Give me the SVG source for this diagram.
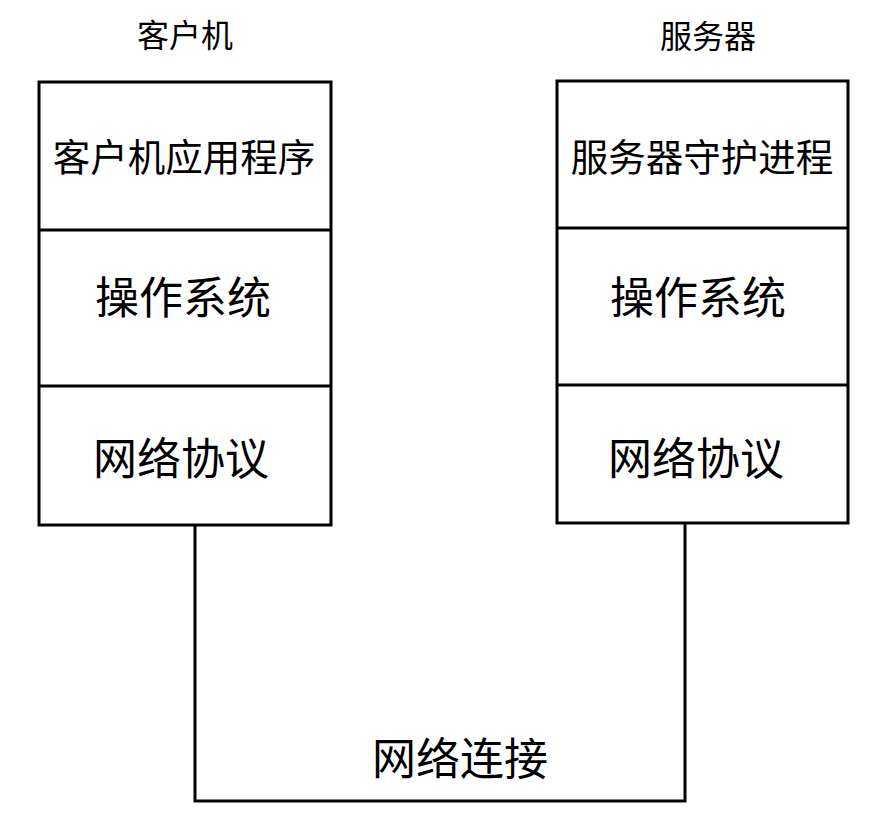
<svg xmlns="http://www.w3.org/2000/svg" width="890" height="838" viewBox="0 0 890 838">
<style>
.box{fill:#fff;stroke:#000;stroke-width:3}
.ln{fill:none;stroke:#000;stroke-width:3}
text{font-family:"Noto Sans CJK SC","Noto Sans",sans-serif;fill:#000;text-anchor:middle;dominant-baseline:central}
.t{font-size:32px}
.a{font-size:37.5px}
.b{font-size:44px}
</style>
<rect width="890" height="838" fill="#fff"/>
<g id="connectors">
<polyline class="ln" points="195,526 195,801 685,801 685,524"/>
<text class="b" x="460" y="756">网络连接</text>
</g>
<g id="client">
<text class="t" x="185" y="33">客户机</text>
<rect class="box" x="39" y="82" width="292" height="443"/>
<line class="ln" x1="39" y1="230" x2="331" y2="230"/>
<line class="ln" x1="39" y1="386" x2="331" y2="386"/>
<text class="a" x="184" y="154">客户机应用程序</text>
<text class="b" x="183" y="295">操作系统</text>
<text class="b" x="181" y="456">网络协议</text>
</g>
<g id="server">
<text class="t" x="708" y="34">服务器</text>
<rect class="box" x="557" y="81" width="291" height="442"/>
<line class="ln" x1="557" y1="228" x2="848" y2="228"/>
<line class="ln" x1="557" y1="385" x2="848" y2="385"/>
<text class="a" x="702" y="154">服务器守护进程</text>
<text class="b" x="698" y="295">操作系统</text>
<text class="b" x="696" y="456">网络协议</text>
</g>
</svg>
